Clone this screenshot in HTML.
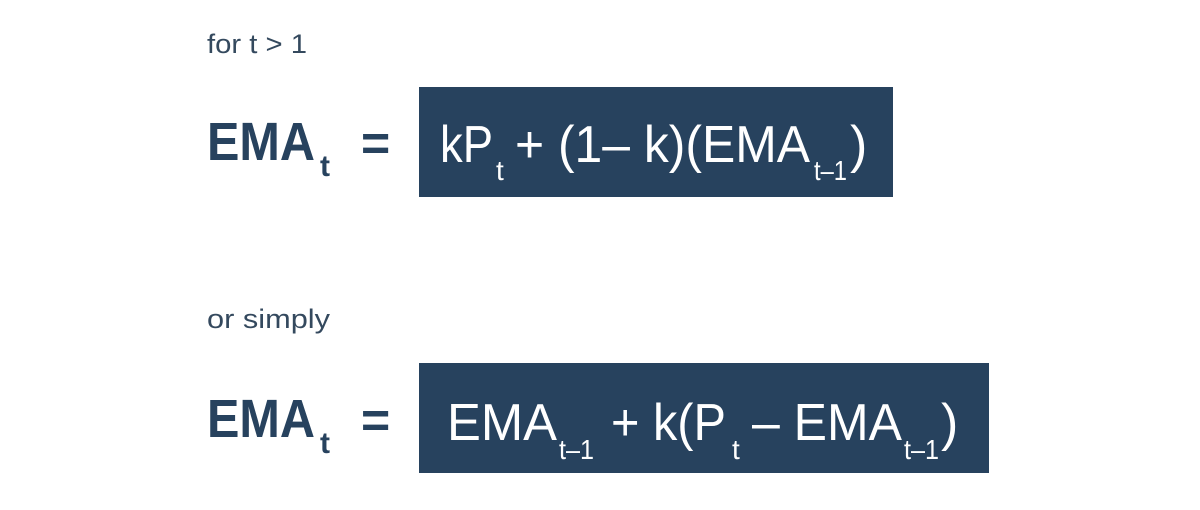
<!DOCTYPE html>
<html><head><meta charset="utf-8"><style>
html,body{margin:0;padding:0;background:#fff;}
svg{display:block}
</style></head><body>
<svg width="1200" height="510" viewBox="0 0 1200 510" xmlns="http://www.w3.org/2000/svg" font-family="Liberation Sans, sans-serif">
<text x="207" y="53" font-size="27" fill="#34495e" textLength="100" lengthAdjust="spacingAndGlyphs">for t &gt; 1</text>
<text x="207" y="328" font-size="27" fill="#34495e" textLength="123" lengthAdjust="spacingAndGlyphs">or simply</text>

<g fill="#27425e" font-weight="bold">
<text x="207" y="160" font-size="54" textLength="108" lengthAdjust="spacingAndGlyphs">EMA</text>
<text x="320" y="176" font-size="30">t</text>
<text x="361" y="160" font-size="50">=</text>
<text x="207" y="437" font-size="54" textLength="108" lengthAdjust="spacingAndGlyphs">EMA</text>
<text x="320" y="453" font-size="30">t</text>
<text x="361" y="437" font-size="50">=</text>
</g>

<rect x="419" y="87" width="474" height="110" fill="#27425e"/>
<rect x="419" y="363" width="570" height="110" fill="#27425e"/>

<g fill="#fff">
<text x="440" y="162" font-size="52" textLength="53" lengthAdjust="spacingAndGlyphs">kP</text>
<text x="496" y="180" font-size="28">t</text>
<text x="515" y="162" font-size="52" textLength="295" lengthAdjust="spacingAndGlyphs">+ (1– k)(EMA</text>
<text x="814" y="180" font-size="28" textLength="33" lengthAdjust="spacingAndGlyphs">t–1</text>
<text x="850" y="162" font-size="52">)</text>

<text x="447" y="440" font-size="52" textLength="110" lengthAdjust="spacingAndGlyphs">EMA</text>
<text x="559" y="459" font-size="28" textLength="35" lengthAdjust="spacingAndGlyphs">t–1</text>
<text x="611" y="440" font-size="52" textLength="115" lengthAdjust="spacingAndGlyphs">+ k(P</text>
<text x="732" y="459" font-size="28">t</text>
<text x="752" y="440" font-size="52" textLength="150" lengthAdjust="spacingAndGlyphs">– EMA</text>
<text x="904" y="459" font-size="28" textLength="35" lengthAdjust="spacingAndGlyphs">t–1</text>
<text x="941" y="440" font-size="52">)</text>
</g>
</svg>
</body></html>
